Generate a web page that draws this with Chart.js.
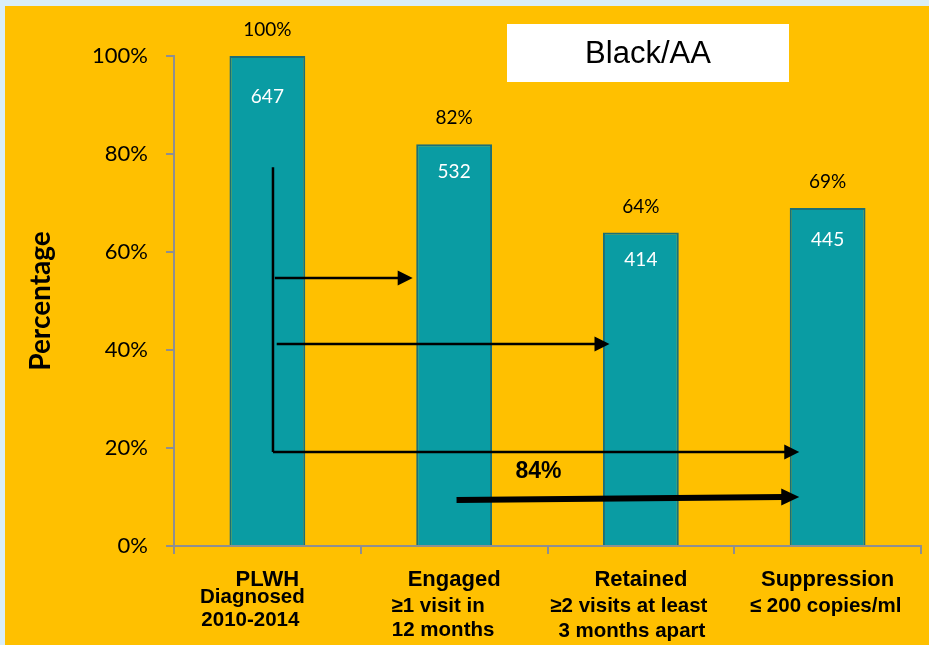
<!DOCTYPE html>
<html>
<head>
<meta charset="utf-8">
<script src="https://cdn.jsdelivr.net/npm/chart.js@4.4.1/dist/chart.umd.min.js"></script>
<style>
  html, body { margin: 0; padding: 0; background: #DAEEF8; }
  #wrap { width: 929px; height: 645px; position: relative; }
</style>
</head>
<body>
<div id="wrap"><canvas id="cascade" width="929" height="645"></canvas></div>
<script>
// Care cascade stages, Black/AA group
const stages = ['PLWH', 'Engaged', 'Retained', 'Suppression'];
const stageDetails = [
  ['Diagnosed', '2010-2014'],
  ['\u22651 visit in', '12 months'],
  ['\u22652 visits at least', '3 months apart'],
  ['\u2264 200 copies/ml']
];
const percentValues = [100, 82, 64, 69];
const personCounts = [647, 532, 414, 445];
const yTicks = [0, 20, 40, 60, 80, 100];
const groupLabel = 'Black/AA';
const retentionLabel = '84%';

const ORANGE = '#FFC000';
const TEAL = '#0A9CA3';
const TEAL_EDGE = '#1B6F78';
const AXIS_GREY = '#8F8F8F';

// fractional category index -> pixel
function xAt(scale, idx) {
  const base = Math.floor(idx);
  const p0 = scale.getPixelForValue(base);
  const p1 = scale.getPixelForValue(base + 1);
  return p0 + (idx - base) * (p1 - p0);
}

function arrowHead(ctx, x, y, len, half) {
  ctx.beginPath();
  ctx.moveTo(x, y);
  ctx.lineTo(x - len, y - half);
  ctx.lineTo(x - len, y + half);
  ctx.closePath();
  ctx.fill();
}

const backdrop = {
  id: 'backdrop',
  beforeDraw(chart) {
    const ctx = chart.ctx;
    ctx.save();
    ctx.fillStyle = '#DAEEF8';
    ctx.fillRect(0, 0, chart.width, chart.height);
    ctx.fillStyle = ORANGE;
    ctx.fillRect(5, 6, chart.width - 5, chart.height - 6);
    ctx.restore();
  }
};

const barText = {
  id: 'barText',
  afterDatasetsDraw(chart, args, opts) {
    const ctx = chart.ctx;
    const meta = chart.getDatasetMeta(0);
    ctx.save();
    ctx.textAlign = 'center';
    ctx.textBaseline = 'middle';
    meta.data.forEach((bar, i) => {
      ctx.font = '19px Lato, "Open Sans", sans-serif';
      ctx.fillStyle = '#000';
      ctx.fillText(percentValues[i] + '%', bar.x, bar.y - 26);
      ctx.fillStyle = '#FFFFFF';
      ctx.fillText(String(personCounts[i]), bar.x, bar.y + opts.countDrop[i]);
    });
    ctx.restore();
  }
};

const flowArrows = {
  id: 'flowArrows',
  afterDatasetsDraw(chart, args, opts) {
    const ctx = chart.ctx;
    const xs = chart.scales.x, ys = chart.scales.y;
    ctx.save();
    ctx.strokeStyle = '#000';
    ctx.fillStyle = '#000';
    ctx.lineCap = 'butt';
    // vertical stem out of the first stage
    ctx.lineWidth = 2.5;
    ctx.beginPath();
    ctx.moveTo(xAt(xs, opts.stem.x), ys.getPixelForValue(opts.stem.from));
    ctx.lineTo(xAt(xs, opts.stem.x), ys.getPixelForValue(opts.stem.to));
    ctx.stroke();
    opts.arrows.forEach(a => {
      const x0 = xAt(xs, a.x0), x1 = xAt(xs, a.x1);
      const y0 = ys.getPixelForValue(a.y0), y1 = ys.getPixelForValue(a.y1);
      ctx.lineWidth = a.w;
      ctx.beginPath();
      ctx.moveTo(x0, y0);
      ctx.lineTo(x1 - a.head + 2, y1);
      ctx.stroke();
      arrowHead(ctx, x1, y1, a.head, a.half);
    });
    ctx.font = 'bold 23px "Liberation Sans", Arial, sans-serif';
    ctx.textAlign = 'center';
    ctx.textBaseline = 'middle';
    ctx.fillText(retentionLabel, xAt(xs, opts.label.x), ys.getPixelForValue(opts.label.y));
    ctx.restore();
  }
};

const groupBox = {
  id: 'groupBox',
  afterDraw(chart) {
    const ctx = chart.ctx;
    ctx.save();
    ctx.fillStyle = '#FFFFFF';
    ctx.fillRect(507, 24, 282, 58);
    ctx.fillStyle = '#000';
    ctx.font = '31px "Liberation Sans", Arial, sans-serif';
    ctx.textAlign = 'center';
    ctx.textBaseline = 'middle';
    ctx.fillText(groupLabel, 648, 54);
    ctx.restore();
  }
};

const stageLabels = {
  id: 'stageLabels',
  afterDraw(chart, args, opts) {
    const ctx = chart.ctx;
    const xs = chart.scales.x;
    ctx.save();
    ctx.fillStyle = '#000';
    ctx.textBaseline = 'middle';
    ctx.textAlign = 'center';
    stages.forEach((name, i) => {
      const cx = xs.getPixelForValue(i);
      ctx.font = 'bold 22px "Liberation Sans", Arial, sans-serif';
      ctx.fillText(name, cx, opts.firstRow);
      ctx.font = 'bold 20.5px "Liberation Sans", Arial, sans-serif';
      stageDetails[i].forEach((line, j) => {
        ctx.fillText(line, cx + opts.shift[i][j], opts.rows[i][j]);
      });
    });
    ctx.restore();
  }
};

new Chart(document.getElementById('cascade'), {
  type: 'bar',
  data: {
    labels: stages,
    datasets: [{
      data: percentValues,
      backgroundColor: TEAL,
      borderColor: TEAL_EDGE,
      borderWidth: 2,
      borderSkipped: 'bottom',
      categoryPercentage: 1,
      barPercentage: 0.406
    }]
  },
  options: {
    responsive: false,
    animation: false,
    devicePixelRatio: 1,
    layout: { padding: { top: 56, right: 8, left: 0, bottom: 0 } },
    plugins: {
      legend: { display: false },
      tooltip: { enabled: false },
      barText: { countDrop: [41, 28, 27, 32] },
      flowArrows: {
        stem: { x: 0.03, from: 77.3, to: 19.2 },
        arrows: [
          { x0: 0.04, y0: 54.7, x1: 0.778, y1: 54.7, w: 2.5, head: 15, half: 7.5 },
          { x0: 0.05, y0: 41.2, x1: 1.832, y1: 41.2, w: 2.5, head: 15, half: 7.5 },
          { x0: 0.03, y0: 19.2, x1: 2.848, y1: 19.2, w: 2.5, head: 15, half: 7.5 },
          { x0: 1.013, y0: 9.4, x1: 2.848, y1: 10.0, w: 6, head: 18, half: 8.5 }
        ],
        label: { x: 1.452, y: 15.1 }
      },
      stageLabels: {
        firstRow: 580,
        shift: [[-15, -17], [-16, -11], [-12, -9], [-2]],
        rows: [[597, 620], [606, 630], [606, 631], [606]]
      }
    },
    scales: {
      x: {
        grid: {
          display: true,
          drawOnChartArea: false,
          drawTicks: true,
          tickLength: 8,
          color: AXIS_GREY,
          lineWidth: 2,
          offset: true
        },
        border: { display: true, color: AXIS_GREY, width: 2 },
        ticks: { display: false },
        afterFit(s) { s.height = 99; }
      },
      y: {
        min: 0,
        max: 100,
        afterBuildTicks(s) { s.ticks = yTicks.map(v => ({ value: v })); },
        grid: {
          display: true,
          drawOnChartArea: false,
          drawTicks: true,
          tickLength: 8,
          color: AXIS_GREY,
          lineWidth: 2
        },
        border: { display: true, color: AXIS_GREY, width: 2 },
        ticks: {
          padding: 18,
          color: '#000',
          font: { family: 'Lato, "Open Sans", sans-serif', size: 22 },
          callback: v => v + '%'
        },
        title: {
          display: true,
          text: 'Percentage',
          color: '#000',
          font: { family: 'Lato, "Open Sans", sans-serif', size: 28, weight: 'bold' },
          padding: { top: 24, bottom: 0 }
        },
        afterFit(s) { s.width = 174; }
      }
    }
  },
  plugins: [backdrop, barText, flowArrows, groupBox, stageLabels]
});
</script>
</body>
</html>
